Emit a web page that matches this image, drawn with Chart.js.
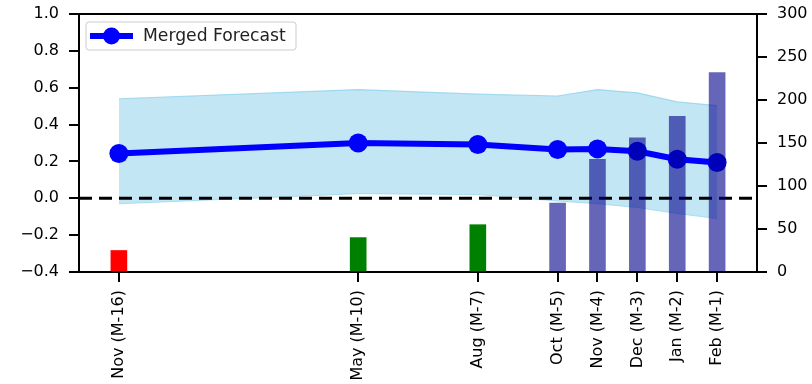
<!DOCTYPE html>
<html>
<head>
<meta charset="utf-8">
<script src="https://cdn.jsdelivr.net/npm/chart.js@4"></script>
<style>
	html, body { margin: 0; padding: 0; background: #fff; }
	#wrap { width: 812px; height: 384px; }
</style>
</head>
<body>
<div id="wrap"><canvas id="chart"></canvas></div>
<script>
// months before the target month, and their tick labels
const monthOffsets = [-16, -10, -7, -5, -4, -3, -2, -1];
const monthLabels = ["Nov (M-16)", "May (M-10)", "Aug (M-7)", "Oct (M-5)", "Nov (M-4)", "Dec (M-3)", "Jan (M-2)", "Feb (M-1)"];

const mergedForecast = [0.243, 0.300, 0.292, 0.265, 0.268, 0.255, 0.212, 0.194];
const bandUpper = [0.540, 0.590, 0.565, 0.555, 0.590, 0.572, 0.523, 0.503];
const bandLower = [-0.030, 0.025, 0.020, -0.015, -0.030, -0.050, -0.083, -0.110];

const barCounts = [25, 40, 55, 80, 131, 156, 181, 232];
const barColors = ["#ff0000", "#008000", "#008000", "rgba(0,0,139,0.6)", "rgba(0,0,139,0.6)", "rgba(0,0,139,0.6)", "rgba(0,0,139,0.6)", "rgba(0,0,139,0.6)"];

const leftTicks = [-0.4, -0.2, 0, 0.2, 0.4, 0.6, 0.8, 1.0];
const rightTicks = [0, 50, 100, 150, 200, 250, 300];

const FONT = { family: "DejaVu Sans", size: 16 };

function toPoints(values)
{
	return values.map((v, i) => ({ x: monthOffsets[i], y: v }));
}

function fixTicks(values)
{
	return scale => { scale.ticks = values.map(v => ({ value: v })); };
}

function fitScale(width, height)
{
	return scale =>
	{
		if(width) scale.width = width;
		if(height) scale.height = height;
		scale.paddingTop = 0;
		scale.paddingBottom = 0;
		scale.paddingLeft = 0;
		scale.paddingRight = 0;
	};
}

// top spine + legend box like the original figure
const framePlugin =
{
	id: "frame",
	afterDraw(chart)
	{
		const ctx = chart.ctx;
		const area = chart.chartArea;

		ctx.save();
		ctx.strokeStyle = "#000";
		ctx.lineWidth = 2;
		ctx.beginPath();
		ctx.moveTo(area.left, area.top);
		ctx.lineTo(area.right, area.top);
		ctx.stroke();

		const ds = chart.data.datasets[1];
		const bx = area.left + 7, by = area.top + 8, bw = 210, bh = 28;

		ctx.fillStyle = "rgba(255,255,255,0.8)";
		ctx.strokeStyle = "#cccccc";
		ctx.lineWidth = 1;
		ctx.beginPath();
		ctx.roundRect(bx, by, bw, bh, 3);
		ctx.fill();
		ctx.stroke();

		const cy = by + bh / 2;
		ctx.strokeStyle = ds.borderColor;
		ctx.lineWidth = ds.borderWidth;
		ctx.beginPath();
		ctx.moveTo(bx + 4, cy);
		ctx.lineTo(bx + 47, cy);
		ctx.stroke();

		ctx.fillStyle = ds.borderColor;
		ctx.beginPath();
		ctx.arc(bx + 25.5, cy, 8.5, 0, Math.PI * 2);
		ctx.fill();

		ctx.fillStyle = "#222";
		ctx.font = "17.2px 'DejaVu Sans'";
		ctx.textBaseline = "middle";
		ctx.fillText(ds.label, bx + 57, cy + 1);
		ctx.restore();
	}
};

const axisGrid = { display: true, drawOnChartArea: false, drawTicks: true, tickLength: 10, color: "#000", lineWidth: 2 };
const axisBorder = { display: true, color: "#000", width: 2 };

new Chart(document.getElementById("chart"),
{
	type: "bar",
	data:
	{
		datasets:
		[
			{
				type: "bar",
				label: "Count",
				data: toPoints(barCounts),
				backgroundColor: barColors,
				barThickness: 16,
				yAxisID: "y2",
				order: 0
			},
			{
				type: "line",
				label: "Merged Forecast",
				data: toPoints(mergedForecast),
				borderColor: "#0000ff",
				backgroundColor: "#0000ff",
				borderWidth: 6,
				pointRadius: 9.5,
				pointBorderWidth: 0,
				pointBackgroundColor: "#0000ff",
				yAxisID: "y",
				order: 2
			},
			{
				type: "line",
				label: "zero",
				data: [{ x: -17, y: 0 }, { x: 0, y: 0 }],
				borderColor: "#000",
				borderWidth: 3,
				borderDash: [13, 7],
				pointRadius: 0,
				yAxisID: "y",
				order: 1
			},
			{
				type: "line",
				label: "lower",
				data: toPoints(bandLower),
				borderColor: "rgba(135,206,235,0.6)",
				borderWidth: 1,
				pointRadius: 0,
				fill: false,
				yAxisID: "y",
				order: 4
			},
			{
				type: "line",
				label: "upper",
				data: toPoints(bandUpper),
				borderColor: "rgba(135,206,235,0.7)",
				backgroundColor: "rgba(135,206,235,0.5)",
				borderWidth: 1.2,
				pointRadius: 0,
				fill: "-1",
				yAxisID: "y",
				order: 3
			}
		]
	},
	options:
	{
		responsive: true,
		maintainAspectRatio: false,
		animation: false,
		layout: { padding: { top: 14, left: 0, right: 0, bottom: 0 } },
		plugins: { legend: { display: false }, tooltip: { enabled: false } },
		scales:
		{
			x:
			{
				type: "linear",
				min: -17,
				max: 0,
				offset: false,
				afterBuildTicks: fixTicks(monthOffsets),
				afterFit: fitScale(0, 112),
				grid: Object.assign({ offset: false }, axisGrid),
				border: axisBorder,
				ticks:
				{
					color: "#000",
					font: FONT,
					padding: 8,
					minRotation: 90,
					maxRotation: 90,
					autoSkip: false,
					callback: v => monthLabels[monthOffsets.indexOf(v)]
				}
			},
			y:
			{
				position: "left",
				min: -0.4,
				max: 1.0,
				afterBuildTicks: fixTicks(leftTicks),
				afterFit: fitScale(79, 0),
				grid: axisGrid,
				border: axisBorder,
				ticks: { color: "#000", font: FONT, padding: 10, callback: v => v.toFixed(1).replace("-", "\u2212") }
			},
			y2:
			{
				position: "right",
				min: 0,
				max: 300,
				afterBuildTicks: fixTicks(rightTicks),
				afterFit: fitScale(55, 0),
				grid: axisGrid,
				border: axisBorder,
				ticks: { color: "#000", font: FONT, padding: 10 }
			}
		}
	},
	plugins: [framePlugin]
});
</script>
</body>
</html>
